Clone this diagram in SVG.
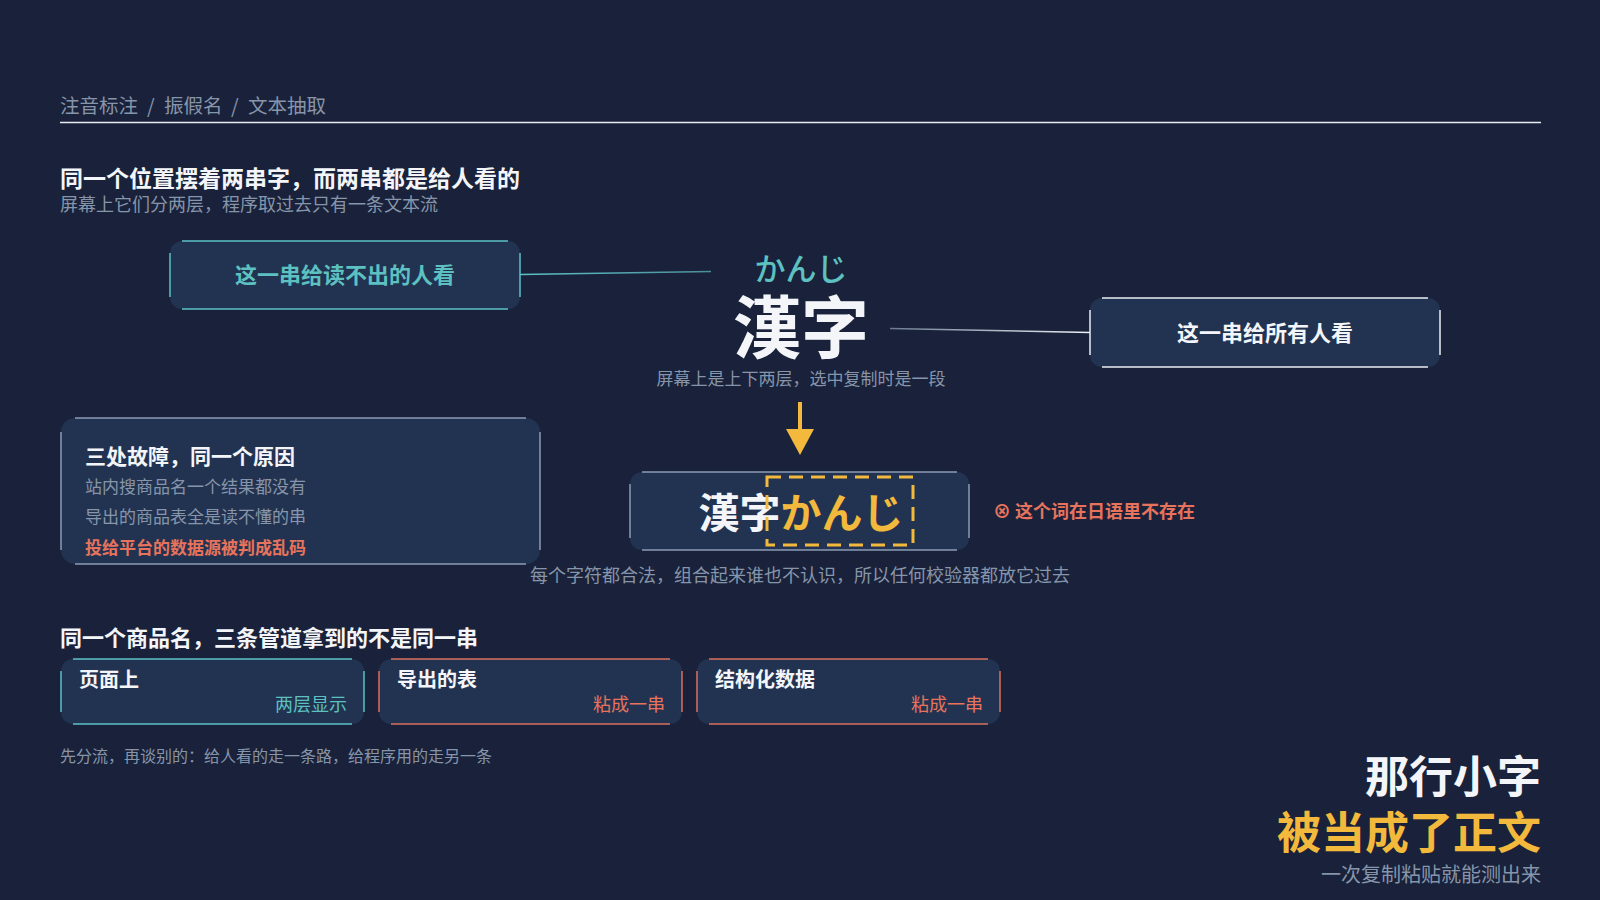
<svg xmlns="http://www.w3.org/2000/svg" width="1600" height="900" viewBox="0 0 1600 900">
  <defs>
    <style>
      text { font-family: "Noto Sans CJK SC", "Noto Sans CJK JP", sans-serif; }
      .b { font-weight: 700; }
      .grey { fill: #8795aa; }
      .white { fill: #f3f5f9; }
      .teal { fill: #5cc1c0; }
      .coral { fill: #e7735c; }
      .yellow { fill: #f2b93c; }
      .box { fill: #223351; }
      .edge { fill: none; stroke-width: 1.5; }
      .e-teal { stroke: #5cc1c6; }
      .e-white { stroke: #e9edf3; }
      .e-slate { stroke: #8c9bb4; }
      .e-coral { stroke: #d9705e; }
    </style>
    <linearGradient id="gTeal" gradientUnits="userSpaceOnUse" x1="520" y1="0" x2="711" y2="0">
      <stop offset="0" stop-color="#5cc1c6"/>
      <stop offset="1" stop-color="#4c8f9a"/>
    </linearGradient>
    <linearGradient id="gWhite" gradientUnits="userSpaceOnUse" x1="890" y1="0" x2="1090" y2="0">
      <stop offset="0" stop-color="#6c7a90"/>
      <stop offset="1" stop-color="#eef1f6"/>
    </linearGradient>
  </defs>

  <rect width="1600" height="900" fill="#19223a"/>

  <g id="header">
    <text y="113" font-size="19.5" class="grey"><tspan x="60">注音标注</tspan><tspan x="147">/</tspan><tspan x="164">振假名</tspan><tspan x="231">/</tspan><tspan x="248">文本抽取</tspan></text>
    <line x1="60" y1="122.5" x2="1541" y2="122.5" stroke="#e9edf3" stroke-width="1.5"/>
  </g>

  <g id="intro">
    <text x="60" y="187" font-size="23" class="b white">同一个位置摆着两串字，而两串都是给人看的</text>
    <text x="60" y="211" font-size="18" class="grey">屏幕上它们分两层，程序取过去只有一条文本流</text>
  </g>

  <g id="connectors">
    <line x1="520" y1="274.5" x2="711" y2="271.5" stroke="url(#gTeal)" stroke-width="1.5"/>
    <line x1="890" y1="328.5" x2="1090" y2="332.5" stroke="url(#gWhite)" stroke-width="1.5"/>
    <g id="arrow" fill="#f2b93c">
      <rect x="798" y="402" width="4" height="30"/>
      <polygon points="786,429 814,429 800,455"/>
    </g>
  </g>

  <g id="reader-box">
    <rect x="170" y="241" width="350" height="68" rx="12" class="box"/>
    <path class="edge e-teal" d="M182 241H508M182 309H508M170 253V297M520 253V297"/>
    <text x="345" y="283" font-size="22" text-anchor="middle" class="b teal">这一串给读不出的人看</text>
  </g>

  <g id="ruby">
    <text x="801" y="280" font-size="31" text-anchor="middle" class="teal" font-weight="500">かんじ</text>
    <text x="801" y="353" font-size="68" text-anchor="middle" class="b white">漢字</text>
    <text x="801" y="385" font-size="17" text-anchor="middle" class="grey">屏幕上是上下两层，选中复制时是一段</text>
  </g>

  <g id="everyone-box">
    <rect x="1090" y="298" width="350" height="69" rx="12" class="box"/>
    <path class="edge e-white" d="M1102 298H1428M1102 367H1428M1090 310V355M1440 310V355"/>
    <text x="1265" y="341" font-size="22" text-anchor="middle" class="b white">这一串给所有人看</text>
  </g>

  <g id="fault-box">
    <rect x="61" y="418" width="479" height="146" rx="14" class="box"/>
    <path class="edge e-slate" d="M75 418H526M75 564H526M61 432V550M540 432V550"/>
    <text x="85" y="464" font-size="21" class="b white">三处故障，同一个原因</text>
    <text x="85" y="493" font-size="17" class="grey">站内搜商品名一个结果都没有</text>
    <text x="85" y="523" font-size="17" class="grey">导出的商品表全是读不懂的串</text>
    <text x="85" y="554" font-size="17" class="b coral">投给平台的数据源被判成乱码</text>
  </g>

  <g id="merged-box">
    <rect x="630" y="472" width="339" height="78" rx="12" class="box"/>
    <path class="edge e-slate" d="M642 472H957M642 550H957M630 484V538M969 484V538"/>
    <text x="801" y="528" font-size="41" text-anchor="middle" class="b"><tspan class="white">漢字</tspan><tspan class="yellow">かんじ</tspan></text>
    <rect x="767" y="477" width="146" height="68" fill="none" stroke="#f2b93c" stroke-width="3" stroke-dasharray="14 8"/>
  </g>

  <g id="warning">
    <text x="993" y="518" font-size="18" class="b coral">⊗ 这个词在日语里不存在</text>
  </g>

  <g id="merged-caption">
    <text x="800" y="582" font-size="18" text-anchor="middle" class="grey">每个字符都合法，组合起来谁也不认识，所以任何校验器都放它过去</text>
  </g>

  <g id="pipelines-title">
    <text x="60" y="646" font-size="22" class="b white">同一个商品名，三条管道拿到的不是同一串</text>
  </g>

  <g id="pipe-page">
    <rect x="61" y="659" width="303" height="65" rx="12" class="box"/>
    <path class="edge e-teal" d="M73 659H352M73 724H352M61 671V712M364 671V712"/>
    <text x="79" y="687" font-size="20" class="b white">页面上</text>
    <text x="347" y="711" font-size="18" text-anchor="end" class="teal">两层显示</text>
  </g>

  <g id="pipe-export">
    <rect x="379" y="659" width="303" height="65" rx="12" class="box"/>
    <path class="edge e-coral" d="M391 659H670M391 724H670M379 671V712M682 671V712"/>
    <text x="397" y="687" font-size="20" class="b white">导出的表</text>
    <text x="665" y="711" font-size="18" text-anchor="end" class="coral">粘成一串</text>
  </g>

  <g id="pipe-structured">
    <rect x="697" y="659" width="303" height="65" rx="12" class="box"/>
    <path class="edge e-coral" d="M709 659H988M709 724H988M697 671V712M1000 671V712"/>
    <text x="715" y="687" font-size="20" class="b white">结构化数据</text>
    <text x="983" y="711" font-size="18" text-anchor="end" class="coral">粘成一串</text>
  </g>

  <g id="footer-note">
    <text x="60" y="762" font-size="16" class="grey">先分流，再谈别的：给人看的走一条路，给程序用的走另一条</text>
  </g>

  <g id="headline">
    <text x="1541" y="793" font-size="44" text-anchor="end" class="b white">那行小字</text>
    <text x="1541" y="849" font-size="44" text-anchor="end" class="b yellow">被当成了正文</text>
    <text x="1541" y="882" font-size="20" text-anchor="end" class="grey">一次复制粘贴就能测出来</text>
  </g>
</svg>
